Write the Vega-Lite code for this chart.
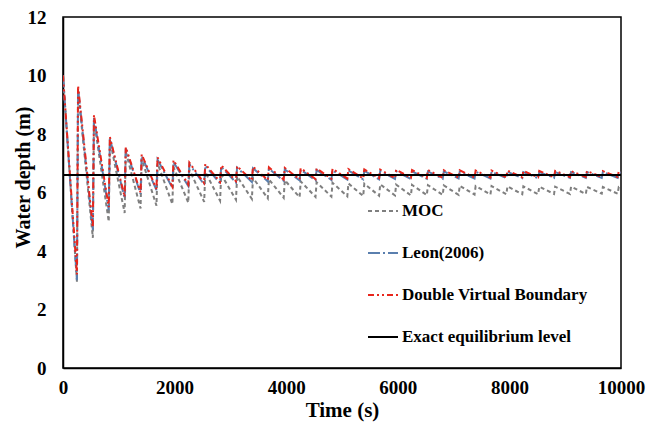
{
  "$schema": "https://vega.github.io/schema/vega-lite/v6.json",
  "autosize": {"type": "none"},
  "width": 558,
  "height": 351,
  "padding": {"left": 63, "top": 17, "right": 26, "bottom": 56},
  "background": "white",
  "config": {
    "view": {"stroke": "black", "strokeWidth": 1.5},
    "font": "Liberation Serif",
    "axis": {"grid": false, "ticks": false, "domainColor": "black", "domainWidth": 1.5, "labelFont": "Liberation Serif", "labelFontWeight": "bold", "labelFontSize": 19, "labelColor": "black", "titleFont": "Liberation Serif", "titleFontWeight": "bold", "titleFontSize": 20, "titleColor": "black"}
  },
  "layer": [
    {
      "data": {"values": [
        {"t":0,"M":10,"L":10,"D":10},
        {"t":250,"M":2.95,"L":3.0,"D":3.2},
        {"t":270,"M":9.5,"L":9.55,"D":9.65},
        {"t":535,"M":4.45,"L":4.7,"D":4.8},
        {"t":555,"M":8.5,"L":8.55,"D":8.65},
        {"t":820,"M":5.0,"L":5.4,"D":5.5},
        {"t":840,"M":7.8,"L":7.85,"D":7.9},
        {"t":1105,"M":5.3,"L":5.8,"D":5.85},
        {"t":1125,"M":7.4,"L":7.5,"D":7.55},
        {"t":1390,"M":5.45,"L":5.95,"D":6.0},
        {"t":1410,"M":7.15,"L":7.25,"D":7.3},
        {"t":1675,"M":5.55,"L":6.08,"D":6.12},
        {"t":1695,"M":7.0,"L":7.12,"D":7.2},
        {"t":1960,"M":5.6,"L":6.16,"D":6.2},
        {"t":1980,"M":6.88,"L":7.04,"D":7.1},
        {"t":2245,"M":5.65,"L":6.22,"D":6.27},
        {"t":2265,"M":6.78,"L":6.97,"D":7.02},
        {"t":2530,"M":5.68,"L":6.27,"D":6.32},
        {"t":2550,"M":6.7,"L":6.92,"D":6.97},
        {"t":2815,"M":5.72,"L":6.31,"D":6.36},
        {"t":2835,"M":6.62,"L":6.88,"D":6.93},
        {"t":3100,"M":5.75,"L":6.34,"D":6.39},
        {"t":3120,"M":6.55,"L":6.85,"D":6.9},
        {"t":3385,"M":5.78,"L":6.36,"D":6.41},
        {"t":3405,"M":6.5,"L":6.83,"D":6.88},
        {"t":3670,"M":5.8,"L":6.38,"D":6.43},
        {"t":3690,"M":6.45,"L":6.81,"D":6.86},
        {"t":3955,"M":5.82,"L":6.4,"D":6.44},
        {"t":3975,"M":6.42,"L":6.79,"D":6.84},
        {"t":4240,"M":5.84,"L":6.41,"D":6.45},
        {"t":4260,"M":6.38,"L":6.78,"D":6.83},
        {"t":4525,"M":5.85,"L":6.42,"D":6.46},
        {"t":4545,"M":6.35,"L":6.77,"D":6.82},
        {"t":4810,"M":5.86,"L":6.43,"D":6.47},
        {"t":4830,"M":6.33,"L":6.76,"D":6.81},
        {"t":5095,"M":5.87,"L":6.44,"D":6.48},
        {"t":5115,"M":6.31,"L":6.75,"D":6.8},
        {"t":5380,"M":5.88,"L":6.45,"D":6.48},
        {"t":5400,"M":6.3,"L":6.74,"D":6.79},
        {"t":5665,"M":5.89,"L":6.45,"D":6.49},
        {"t":5685,"M":6.28,"L":6.73,"D":6.78},
        {"t":5950,"M":5.9,"L":6.46,"D":6.49},
        {"t":5970,"M":6.27,"L":6.73,"D":6.78},
        {"t":6235,"M":5.9,"L":6.46,"D":6.5},
        {"t":6255,"M":6.26,"L":6.72,"D":6.77},
        {"t":6520,"M":5.91,"L":6.47,"D":6.5},
        {"t":6540,"M":6.25,"L":6.72,"D":6.77},
        {"t":6805,"M":5.92,"L":6.47,"D":6.5},
        {"t":6825,"M":6.24,"L":6.72,"D":6.76},
        {"t":7090,"M":5.92,"L":6.48,"D":6.51},
        {"t":7110,"M":6.23,"L":6.71,"D":6.76},
        {"t":7375,"M":5.93,"L":6.48,"D":6.51},
        {"t":7395,"M":6.22,"L":6.71,"D":6.75},
        {"t":7660,"M":5.93,"L":6.48,"D":6.51},
        {"t":7680,"M":6.22,"L":6.71,"D":6.75},
        {"t":7945,"M":5.94,"L":6.49,"D":6.52},
        {"t":7965,"M":6.21,"L":6.71,"D":6.75},
        {"t":8230,"M":5.94,"L":6.49,"D":6.52},
        {"t":8250,"M":6.21,"L":6.7,"D":6.74},
        {"t":8515,"M":5.94,"L":6.49,"D":6.52},
        {"t":8535,"M":6.2,"L":6.7,"D":6.74},
        {"t":8800,"M":5.95,"L":6.5,"D":6.52},
        {"t":8820,"M":6.2,"L":6.7,"D":6.74},
        {"t":9085,"M":5.95,"L":6.5,"D":6.53},
        {"t":9105,"M":6.2,"L":6.7,"D":6.73},
        {"t":9370,"M":5.95,"L":6.5,"D":6.53},
        {"t":9390,"M":6.19,"L":6.7,"D":6.73},
        {"t":9655,"M":5.96,"L":6.5,"D":6.53},
        {"t":9675,"M":6.19,"L":6.7,"D":6.73},
        {"t":9940,"M":5.96,"L":6.5,"D":6.53},
        {"t":9960,"M":6.19,"L":6.7,"D":6.73},
        {"t":10000,"M":6.17,"L":6.68,"D":6.71}
      ]},
      "transform": [{"fold": ["M", "L", "D"], "as": ["series", "depth"]}],
      "mark": {"type": "line", "strokeWidth": 2, "clip": true},
      "encoding": {
        "x": {"field": "t", "type": "quantitative"},
        "y": {"field": "depth", "type": "quantitative"},
        "color": {"field": "series", "type": "nominal"},
        "strokeDash": {"field": "series", "type": "nominal"}
      }
    },
    {
      "data": {"values": [
        {"t": 0, "series": "E", "depth": 6.6},
        {"t": 10000, "series": "E", "depth": 6.6}
      ]},
      "mark": {"type": "line", "strokeWidth": 2},
      "encoding": {
        "x": {"field": "t", "type": "quantitative"},
        "y": {"field": "depth", "type": "quantitative"},
        "color": {"field": "series", "type": "nominal"},
        "strokeDash": {"field": "series", "type": "nominal"}
      }
    }
  ],
  "resolve": {"scale": {"color": "shared", "strokeDash": "shared"}},
  "encoding": {
    "x": {"field": "t", "type": "quantitative", "title": "Time (s)",
      "scale": {"domain": [0, 10000], "nice": false},
      "axis": {"values": [0, 2000, 4000, 6000, 8000, 10000], "format": "d", "labelPadding": 10, "titlePadding": 2, "titleFontSize": 21, "labelFlush": false}},
    "y": {"field": "depth", "type": "quantitative", "title": "Water depth (m)",
      "scale": {"domain": [0, 12], "nice": false},
      "axis": {"values": [0, 2, 4, 6, 8, 10, 12], "labelPadding": 17, "titleX": -40, "titleY": 160, "titleBaseline": "middle", "titleAlign": "center", "titleAngle": 270}},
    "color": {"field": "series", "type": "nominal",
      "scale": {"domain": ["M", "L", "D", "E"], "range": ["#7f7f7f", "#5a7fae", "#e8261c", "#000000"]},
      "legend": {"orient": "none", "legendX": 304, "legendY": 178, "title": null, "symbolType": "stroke", "symbolSize": 900, "symbolStrokeWidth": 2, "labelFont": "Liberation Serif", "labelFontWeight": "bold", "labelFontSize": 17, "labelColor": "black", "labelOffset": 3, "rowPadding": 18, "labelLimit": 300,
        "labelExpr": "{'M':'MOC','L':'Leon(2006)','D':'Double Virtual Boundary','E':'Exact equilibrium level'}[datum.value]"}
    },
    "strokeDash": {"field": "series", "type": "nominal",
      "scale": {"domain": ["M", "L", "D", "E"], "range": [[4, 3], [12, 3, 2, 3], [6, 3, 2, 3, 2, 3], [1, 0]]},
      "legend": null}
  }
}
